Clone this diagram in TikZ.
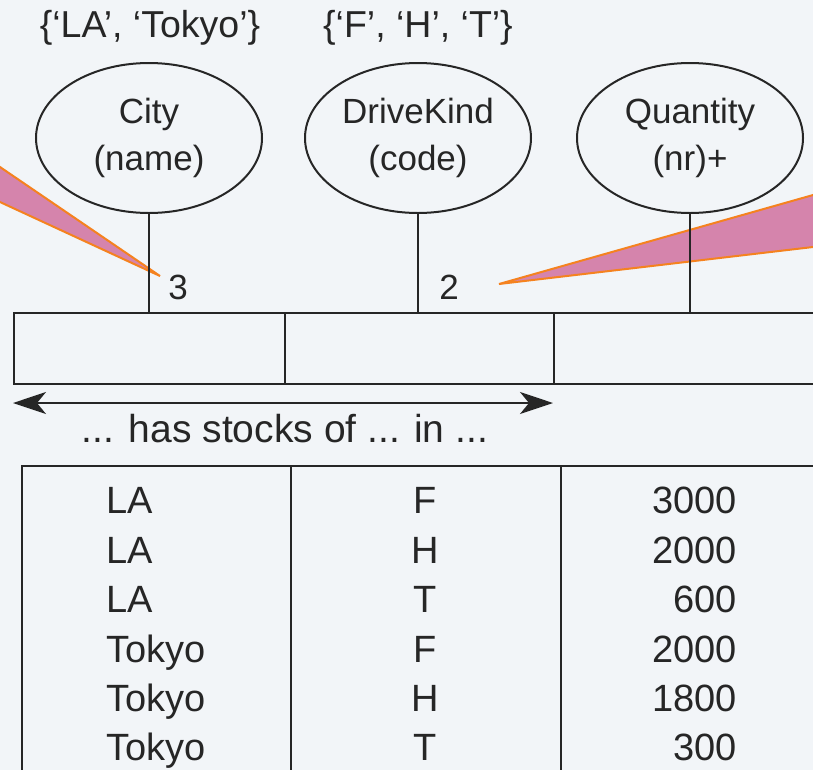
\documentclass[tikz,border=0pt]{standalone}
\usepackage{fontspec}
\setmainfont{Liberation Sans}
\usetikzlibrary{shapes.geometric,arrows.meta}
\definecolor{bg}{HTML}{F2F5F8}
\definecolor{ink}{HTML}{262626}
\definecolor{calloutfill}{HTML}{D584AC}
\definecolor{calloutline}{HTML}{F5821F}
\tikzset{
  attr/.style={ellipse,draw=ink,line width=2pt,minimum width=226pt,minimum height=150pt,inner sep=0pt},
  txt/.style={text=ink,font=\fontsize{35}{40}\selectfont,inner sep=0pt,anchor=base},
  domtxt/.style={txt,font=\fontsize{37.5}{42}\selectfont},
  readtxt/.style={txt,font=\fontsize{39}{44}\selectfont},
  tabtxt/.style={text=ink,font=\fontsize{38}{44}\selectfont,inner sep=0pt},
  cell/.style={rectangle,draw=ink,line width=2pt,inner sep=0pt,anchor=north west},
  link/.style={draw=ink,line width=2pt},
  callout/.style={fill=calloutfill,draw=calloutline,line width=2pt,line join=miter},
}
\begin{document}
\begin{tikzpicture}[x=1pt,y=-1pt]
\useasboundingbox (0,0) rectangle (813,769);
\clip (0,0) rectangle (813,769);
\fill[bg] (-5,-5) rectangle (820,775);

% callouts
\draw[callout] (-10,160.2) -- (160,276) -- (-10,197.4);
\draw[callout] (830,190.2) -- (499,284) -- (830,245);

% domain labels
\node[domtxt] (domcity) at (150,37) {\{‘LA’, ‘Tokyo’\}};
\node[domtxt] (domkind) at (418,37) {\{‘F’, ‘H’, ‘T’\}};

% attribute ellipses
\node[attr] (city) at (149,138) {};
\node[attr] (kind) at (418,138) {};
\node[attr] (qty) at (690,138) {};
\node[txt] (cityA) at (149,123) {City};
\node[txt] (cityB) at (149,170) {(name)};
\node[txt] (kindA) at (418,123) {DriveKind};
\node[txt] (kindB) at (418,170) {(code)};
\node[txt] (qtyA) at (690,123) {Quantity};
\node[txt] (qtyB) at (690,170) {(nr)+};

% fact type roles
\node[cell,minimum width=271pt,minimum height=71pt] (r1) at (13,312) {};
\node[cell,minimum width=269pt,minimum height=71pt] (r2) at (284,312) {};
\node[cell,minimum width=270pt,minimum height=71pt] (r3) at (553,312) {};

\draw[link] (city.south) -- (city.south |- r1.north);
\draw[link] (kind.south) -- (kind.south |- r2.north);
\draw[link] (qty.south) -- (qty.south |- r3.north);

\node[txt] (n3) at (178,299) {3};
\node[txt] (n2) at (449,299) {2};

% reading arrow
\coordinate (al) at (13,403);
\coordinate (ar) at (553,403);
\draw[link,{Stealth[length=33pt,width=22pt,inset=9pt]}-{Stealth[length=33pt,width=22pt,inset=9pt]}] (al) -- (ar);
\node[readtxt] (reading) at (285,442) {... has stocks of ... in ...};

% population table
\node[cell,minimum width=269pt,minimum height=330pt] (c1) at (21,465) {};
\node[cell,minimum width=270pt,minimum height=330pt] (c2) at (290,465) {};
\node[cell,minimum width=270pt,minimum height=330pt] (c3) at (560,465) {};

\foreach \y/\a/\b/\c [count=\i] in {513/LA/F/3000,563/LA/H/2000,612/LA/T/600,662/Tokyo/F/2000,711/Tokyo/H/1800,760/Tokyo/T/300}{
  \node[tabtxt,anchor=base west] (pa\i) at (106,\y) {\a};
  \node[tabtxt,anchor=base] (pb\i) at (425,\y) {\b};
  \node[tabtxt,anchor=base east] (pc\i) at (737,\y) {\c};
}
\end{tikzpicture}
\end{document}
